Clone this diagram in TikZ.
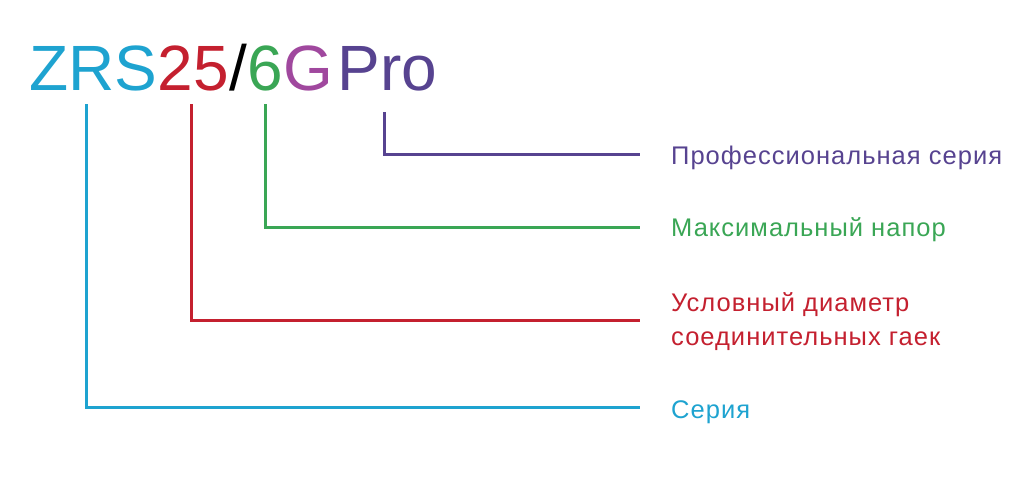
\documentclass[tikz,border=0pt]{standalone}
\usepackage{fontspec}
\setmainfont{Liberation Sans}
\newfontfamily\lblfont[LetterSpace=4]{Liberation Sans}
\usetikzlibrary{calc}
\definecolor{sercyan}{HTML}{1EA3D0}
\definecolor{diared}{HTML}{C4202F}
\definecolor{napgreen}{HTML}{3AA655}
\definecolor{gmag}{HTML}{A0489E}
\definecolor{propurple}{HTML}{574390}
\tikzset{
  code/.style={inner sep=0pt, anchor=base west, font=\fontsize{64}{70}\selectfont},
  lbl/.style={inner sep=0pt, anchor=base west, font=\lblfont\fontsize{25.5}{34}\selectfont},
  leader/.style={line width=3pt}
}

\begin{document}
\begin{tikzpicture}[x=1pt,y=1pt]
  \useasboundingbox (0,0) rectangle (1024,-482);

  % Type code
  \node[code,text=sercyan]   (zrs) at (29,-90) {ZRS};
  \node[code,text=diared]    (dn)  at (zrs.base east) {25};
  \node[code]                (sl)  at (dn.base east) {/};
  \node[code,text=napgreen]  (hd)  at (sl.base east) {6};
  \node[code,text=gmag]      (gg)  at (hd.base east) {G};
  \node[code,text=propurple] (pro) at ([xshift=4pt]gg.base east) {Pro};

  % Labels
  \node[lbl,text=propurple] (lpro) at (671,-164) {Профессиональная серия};
  \node[lbl,text=napgreen]  (lhd)  at (671,-236) {Максимальный напор};
  \node[lbl,text=diared,align=left,anchor=west] (ldn) at (671,-322)
    {Условный диаметр\\соединительных гаек};
  \node[lbl,text=sercyan]   (lser) at (671,-418) {Серия};

  % Leaders
  \draw[leader,propurple] ([xshift=-3pt,yshift=-22pt]pro.base) |- ([xshift=-31pt,yshift=10pt]lpro.base west);
  \draw[leader,napgreen]  ([yshift=-14pt]hd.base) |- ([xshift=-31pt,yshift=9pt]lhd.base west);
  \draw[leader,diared]    ([xshift=-2pt,yshift=-14pt]dn.base) |- ([xshift=-31pt,yshift=2pt]ldn.west);
  \draw[leader,sercyan]   ([xshift=-7pt,yshift=-14pt]zrs.base) |- ([xshift=-31pt,yshift=11pt]lser.base west);
\end{tikzpicture}
\end{document}
